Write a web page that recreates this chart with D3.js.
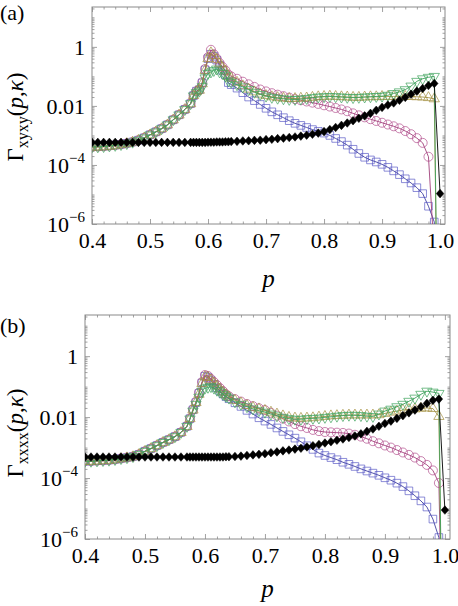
<!DOCTYPE html>
<html><head><meta charset="utf-8">
<script src="https://cdn.jsdelivr.net/npm/d3@7"></script>
<style>
body{margin:0;background:#fff}
svg{display:block}
svg text{font-family:"Liberation Serif","Times New Roman",Times,serif}
</style>
</head><body>
<svg id="c" width="458" height="606"></svg>
<script>
// ---------------- DATA ----------------
const pColored = [0.40,0.41,0.42,0.43,0.44,0.45,0.46,0.47,0.48,0.49,0.50,0.51,0.52,0.53,0.54,0.55,0.56,0.57,
  0.575,0.58,0.585,0.59,0.595,0.60,0.605,0.61,0.615,0.62,0.625,0.63,0.635,0.64,
  0.65,0.66,0.67,0.68,0.69,0.70,0.71,0.72,0.73,0.74,0.75,0.76,0.77,0.78,0.79,0.80,0.81,0.82,0.83,0.84,
  0.85,0.86,0.87,0.88,0.89,0.90,0.91,0.92,0.93,0.94,0.95,0.96,0.97,0.98,0.99,0.995];
const pBlack = [0.40,0.41,0.42,0.43,0.44,0.45,0.46,0.47,0.48,0.49,0.50,0.51,0.52,0.53,0.54,0.55,0.56,0.57,
  0.575,0.58,0.585,0.59,0.595,0.60,0.605,0.61,0.615,0.62,0.625,0.63,0.635,0.64,
  0.65,0.66,0.67,0.68,0.69,0.70,0.71,0.72,0.73,0.74,0.75,0.76,0.77,0.78,0.79,0.80,0.81,0.82,0.83,0.84,
  0.85,0.86,0.87,0.88,0.89,0.90,0.91,0.92,0.93,0.94,0.95,0.96,0.97,0.98,0.99,1.00];

// panel (a): Gamma_xyxy
const blueA = [4.2e-4,4.2e-4,4.3e-4,4.5e-4,4.7e-4,5.0e-4,5.4e-4,6.0e-4,6.9e-4,8.3e-4,1.05e-3,1.32e-3,1.70e-3,2.29e-3,3.39e-3,5.0e-3,7.6e-3,1.20e-2,
  2.24e-2,3.16e-2,3.55e-2,6.03e-2,0.166,0.398,0.562,0.479,0.355,0.240,0.158,0.112,6.17e-2,5.25e-2,
  4.0e-2,2.8e-2,2.0e-2,1.51e-2,1.12e-2,8.3e-3,6.3e-3,5.0e-3,4.0e-3,3.16e-3,2.57e-3,2.19e-3,1.86e-3,1.58e-3,1.38e-3,1.20e-3,1.0e-3,7.9e-4,6.2e-4,4.7e-4,
  3.4e-4,2.45e-4,1.82e-4,1.48e-4,1.26e-4,1.05e-4,8.3e-5,6.3e-5,4.7e-5,3.4e-5,2.45e-5,1.70e-5,1.07e-5,4.0e-6,1.17e-6,1e-9];
const magentaA = [4.2e-4,4.2e-4,4.3e-4,4.5e-4,4.7e-4,5.0e-4,5.4e-4,6.0e-4,6.9e-4,8.3e-4,1.05e-3,1.32e-3,1.70e-3,2.29e-3,3.39e-3,5.0e-3,7.6e-3,1.20e-2,
  2.24e-2,3.16e-2,3.55e-2,6.3e-2,0.178,0.447,0.794,0.562,0.398,0.282,0.209,0.158,0.115,0.100,
  8.3e-2,6.6e-2,5.4e-2,4.4e-2,3.6e-2,3.1e-2,2.7e-2,2.4e-2,2.14e-2,1.91e-2,1.70e-2,1.55e-2,1.41e-2,1.29e-2,1.17e-2,1.05e-2,9.5e-3,8.5e-3,7.6e-3,6.6e-3,
  5.6e-3,4.8e-3,4.1e-3,3.55e-3,3.09e-3,2.69e-3,2.34e-3,2.04e-3,1.74e-3,1.41e-3,1.10e-3,8.1e-4,5.6e-4,1.9e-4,1e-7,1e-9];
const oliveA = [4.0e-4,4.0e-4,4.1e-4,4.3e-4,4.5e-4,4.9e-4,5.3e-4,5.9e-4,6.8e-4,8.2e-4,1.04e-3,1.31e-3,1.68e-3,2.27e-3,3.36e-3,4.9e-3,7.5e-3,1.18e-2,
  2.24e-2,3.02e-2,3.39e-2,5.62e-2,0.158,0.398,0.631,0.501,0.380,0.263,0.200,0.151,0.100,8.7e-2,
  6.3e-2,4.8e-2,3.7e-2,3.0e-2,2.5e-2,2.24e-2,2.04e-2,1.91e-2,1.82e-2,1.78e-2,1.78e-2,1.82e-2,1.86e-2,1.95e-2,2.04e-2,2.09e-2,2.14e-2,2.09e-2,2.04e-2,2.0e-2,
  1.95e-2,1.95e-2,2.0e-2,2.04e-2,2.04e-2,2.09e-2,2.09e-2,2.09e-2,2.14e-2,2.09e-2,2.09e-2,2.04e-2,2.0e-2,1.91e-2,1.74e-2,1e-9];
const greenA = [4.1e-4,4.1e-4,4.2e-4,4.4e-4,4.6e-4,4.9e-4,5.3e-4,5.9e-4,6.8e-4,8.2e-4,1.04e-3,1.31e-3,1.69e-3,2.28e-3,3.38e-3,4.95e-3,7.5e-3,1.19e-2,
  2.19e-2,2.82e-2,3.16e-2,4.47e-2,8.91e-2,0.126,0.141,0.158,0.178,0.141,0.126,0.105,7.08e-2,6.31e-2,
  5.2e-2,4.4e-2,3.55e-2,2.9e-2,2.45e-2,2.14e-2,1.95e-2,1.82e-2,1.74e-2,1.66e-2,1.66e-2,1.70e-2,1.78e-2,1.91e-2,2.0e-2,2.04e-2,2.09e-2,2.04e-2,2.0e-2,1.95e-2,
  1.91e-2,1.95e-2,2.0e-2,2.04e-2,2.09e-2,2.14e-2,2.29e-2,2.63e-2,3.0e-2,3.55e-2,4.7e-2,6.8e-2,8.3e-2,9.3e-2,0.10,1e-9];
const blackA = [5.8e-4,5.8e-4,5.8e-4,5.8e-4,5.8e-4,5.8e-4,5.8e-4,5.8e-4,5.8e-4,5.8e-4,5.8e-4,5.8e-4,5.8e-4,5.8e-4,5.8e-4,5.8e-4,5.8e-4,5.8e-4,
  5.8e-4,5.8e-4,5.8e-4,5.8e-4,5.8e-4,5.9e-4,5.9e-4,5.9e-4,6.0e-4,6.0e-4,6.0e-4,6.1e-4,6.1e-4,6.2e-4,
  6.3e-4,6.5e-4,6.6e-4,6.8e-4,6.9e-4,7.2e-4,7.4e-4,7.8e-4,8.1e-4,8.5e-4,8.9e-4,9.5e-4,1.02e-3,1.10e-3,1.20e-3,1.35e-3,1.58e-3,1.86e-3,2.19e-3,2.63e-3,
  3.16e-3,3.8e-3,4.6e-3,5.6e-3,7.1e-3,8.9e-3,1.07e-2,1.26e-2,1.55e-2,1.95e-2,2.5e-2,3.16e-2,3.9e-2,4.9e-2,5.75e-2,1.07e-5];

// panel (b): Gamma_xxxx
const blueB = [3.6e-4,3.6e-4,3.7e-4,3.8e-4,3.9e-4,4.1e-4,4.4e-4,4.7e-4,5.1e-4,6.0e-4,7.6e-4,9.3e-4,1.17e-3,1.48e-3,1.82e-3,2.29e-3,3.16e-3,5.0e-3,
  8.9e-3,1.74e-2,3.0e-2,6.0e-2,0.132,0.219,0.200,0.158,0.120,9.1e-2,7.2e-2,5.75e-2,4.7e-2,4.0e-2,
  2.95e-2,2.24e-2,1.66e-2,1.26e-2,9.5e-3,7.4e-3,5.75e-3,4.4e-3,3.39e-3,2.63e-3,2.04e-3,1.55e-3,1.15e-3,8.7e-4,6.6e-4,5.5e-4,4.7e-4,4.0e-4,3.3e-4,2.82e-4,
  2.4e-4,2.0e-4,1.70e-4,1.45e-4,1.23e-4,1.02e-4,8.5e-5,6.8e-5,5.25e-5,3.8e-5,2.63e-5,1.78e-5,1.12e-5,4.5e-6,1.12e-6,1e-9];
const magentaB = [3.6e-4,3.6e-4,3.7e-4,3.8e-4,3.9e-4,4.1e-4,4.4e-4,4.7e-4,5.1e-4,6.0e-4,7.6e-4,9.3e-4,1.17e-3,1.48e-3,1.82e-3,2.29e-3,3.16e-3,5.0e-3,
  8.9e-3,1.78e-2,3.16e-2,6.3e-2,0.141,0.240,0.224,0.178,0.141,0.112,8.9e-2,7.1e-2,5.6e-2,4.8e-2,
  3.9e-2,3.24e-2,2.69e-2,2.29e-2,1.95e-2,1.70e-2,1.38e-2,1.12e-2,8.9e-3,7.2e-3,5.9e-3,5.0e-3,4.4e-3,3.8e-3,3.47e-3,3.24e-3,3.16e-3,3.09e-3,3.02e-3,2.88e-3,
  2.63e-3,2.29e-3,1.95e-3,1.62e-3,1.38e-3,1.17e-3,1.0e-3,8.3e-4,6.9e-4,5.75e-4,4.7e-4,3.6e-4,2.7e-4,1.78e-4,6.9e-5,1e-9];
const oliveB = [3.5e-4,3.5e-4,3.6e-4,3.7e-4,3.8e-4,4.0e-4,4.3e-4,4.6e-4,5.0e-4,5.9e-4,7.5e-4,9.2e-4,1.16e-3,1.47e-3,1.80e-3,2.27e-3,3.12e-3,4.9e-3,
  8.9e-3,1.70e-2,3.0e-2,5.6e-2,0.126,0.209,0.200,0.166,0.132,0.105,8.3e-2,6.6e-2,5.4e-2,4.6e-2,
  3.55e-2,2.9e-2,2.4e-2,2.09e-2,1.86e-2,1.66e-2,1.45e-2,1.26e-2,1.10e-2,9.8e-3,9.3e-3,9.1e-3,9.3e-3,9.5e-3,1.0e-2,1.05e-2,1.10e-2,1.12e-2,1.15e-2,1.17e-2,
  1.17e-2,1.17e-2,1.17e-2,1.17e-2,1.20e-2,1.32e-2,1.45e-2,1.58e-2,1.70e-2,1.78e-2,1.86e-2,1.95e-2,2.0e-2,1.91e-2,1.05e-2,1e-9];
const greenB = [3.55e-4,3.55e-4,3.65e-4,3.75e-4,3.85e-4,4.05e-4,4.35e-4,4.65e-4,5.05e-4,5.95e-4,7.5e-4,9.2e-4,1.16e-3,1.47e-3,1.81e-3,2.28e-3,3.14e-3,4.95e-3,
  8.7e-3,1.58e-2,2.63e-2,4.5e-2,7.1e-2,8.9e-2,9.5e-2,0.100,8.9e-2,7.6e-2,6.6e-2,5.6e-2,4.8e-2,4.2e-2,
  3.16e-2,2.63e-2,2.19e-2,1.86e-2,1.62e-2,1.45e-2,1.26e-2,1.10e-2,9.8e-3,8.9e-3,8.5e-3,8.5e-3,8.9e-3,9.1e-3,9.3e-3,9.8e-3,1.02e-2,1.07e-2,1.12e-2,1.15e-2,
  1.15e-2,1.12e-2,1.07e-2,1.05e-2,1.26e-2,1.58e-2,1.82e-2,2.19e-2,2.63e-2,3.3e-2,4.2e-2,5.6e-2,7.1e-2,6.6e-2,6.0e-2,1e-9];
const blackB = [4.9e-4,4.9e-4,4.9e-4,4.9e-4,4.9e-4,4.9e-4,4.9e-4,4.9e-4,4.9e-4,4.9e-4,4.9e-4,4.9e-4,4.9e-4,4.9e-4,4.9e-4,4.9e-4,4.9e-4,4.9e-4,
  4.9e-4,4.9e-4,4.9e-4,4.9e-4,4.9e-4,4.9e-4,4.9e-4,4.9e-4,4.9e-4,4.9e-4,4.9e-4,4.9e-4,5.0e-4,5.0e-4,
  5.1e-4,5.25e-4,5.5e-4,5.75e-4,6.0e-4,6.3e-4,6.8e-4,7.2e-4,7.8e-4,8.3e-4,8.9e-4,9.5e-4,1.05e-3,1.15e-3,1.26e-3,1.41e-3,1.55e-3,1.74e-3,1.91e-3,2.14e-3,
  2.4e-3,2.82e-3,3.39e-3,4.07e-3,5.0e-3,6.2e-3,7.4e-3,9.1e-3,1.12e-2,1.38e-2,1.70e-2,2.19e-2,2.82e-2,3.55e-2,3.9e-2,8.9e-6];

// axes / ticks
const xDomain = [0.4, 1.0085];
const yDomain = [1e-6, 22.4];
const xMajorTicks = [0.4,0.5,0.6,0.7,0.8,0.9,1.0];
const xTickLabels = ["0.4","0.5","0.6","0.7","0.8","0.9","1.0"];
const yMajorTicks = [1e-6,1e-4,1e-2,1];
const yTickLabels = [["10","\u22126"],["10","\u22124"],["0.01",""],["1",""]];
const panelLabels = ["(a)","(b)"];
const ySubscripts = ["xyxy","xxxx"];
const xLabel = "p";

// ---------------- DRAWING ----------------
const svg = d3.select("#c");
const defs = svg.append("defs");
const FONT = '"Liberation Serif","Times New Roman",Times,serif';

const styles = {
  blue:    {line:"#40409f", mark:"rgba(85,85,195,0.75)", shape:"square"},
  magenta: {line:"#a0407a", mark:"rgba(175,70,135,0.75)", shape:"circle"},
  olive:   {line:"#a08f40", mark:"rgba(165,145,65,0.8)", shape:"up"},
  green:   {line:"#40a05c", mark:"rgba(65,165,95,0.8)", shape:"down"},
  black:   {line:"#000", mark:"#000", shape:"diamond"}
};
const diamond = {draw(ctx, size){ const w=3.8,h=4.3; ctx.moveTo(0,-h); ctx.lineTo(w,0); ctx.lineTo(0,h); ctx.lineTo(-w,0); ctx.closePath(); }};
function symbolPath(shape){
  if(shape==="square") return d3.symbol(d3.symbolSquare, 58)();
  if(shape==="circle") return d3.symbol(d3.symbolCircle, 64)();
  if(shape==="up") return d3.symbol(d3.symbolTriangle, 46)();
  if(shape==="down") return d3.symbol(d3.symbolTriangle, 46)();
  return d3.symbol(diamond, 1)();
}

function panel(cfg){
  const x = d3.scaleLinear().domain(xDomain).range([cfg.left, cfg.right]);
  const y = d3.scaleLog().domain(yDomain).range([cfg.bottom, cfg.top]);
  const g = svg.append("g");
  defs.append("clipPath").attr("id","clip"+cfg.id).append("rect")
    .attr("x",cfg.left).attr("y",cfg.top).attr("width",cfg.right-cfg.left).attr("height",cfg.bottom-cfg.top);

  const xMinor = d3.range(0.40, 1.009, 0.02).map(v=>+v.toFixed(2)).filter(v=>!xMajorTicks.some(t=>Math.abs(t-v)<1e-6));
  const yMinor = [];
  for(let e=-6;e<=1;e++) for(let k=1;k<=9;k++){ const v=k*Math.pow(10,e); if(v<=yDomain[1] && !yMajorTicks.some(t=>Math.abs(t-v)/t<1e-6)) yMinor.push(v); }

  const axColor = "#8a8a8a";
  function ax(axis, tx, ty){
    const a = g.append("g").attr("transform",`translate(${tx},${ty})`).call(axis);
    a.select(".domain").remove();
    a.attr("color", axColor).attr("font-family",FONT).attr("font-size",22);
    a.selectAll("line").attr("stroke-width",0.8);
    return a;
  }
  const bx = ax(d3.axisBottom(x).tickValues(xMajorTicks).tickSize(-5).tickPadding(8).tickFormat((d,i)=>xTickLabels[i]), 0, cfg.bottom);
  bx.selectAll("text").attr("fill","#000").style("font-family",FONT);
  ax(d3.axisBottom(x).tickValues(xMinor).tickSize(-2.5).tickFormat(""), 0, cfg.bottom);
  ax(d3.axisTop(x).tickValues(xMajorTicks).tickSize(-5).tickFormat(""), 0, cfg.top);
  ax(d3.axisTop(x).tickValues(xMinor).tickSize(-2.5).tickFormat(""), 0, cfg.top);
  const ly = ax(d3.axisLeft(y).tickValues(yMajorTicks).tickSize(-5).tickPadding(7).tickFormat(""), cfg.left, 0);
  ly.selectAll(".tick text").each(function(d,i){
    const t = d3.select(this).attr("fill","#000").attr("dy","0.34em").style("font-family",FONT);
    const lab = yTickLabels[i];
    t.append("tspan").text(lab[0]);
    if(lab[1]) t.append("tspan").attr("font-size",15).attr("dy","-0.65em").text(lab[1]);
  });
  ax(d3.axisLeft(y).tickValues(yMinor).tickSize(-2.5).tickFormat(""), cfg.left, 0);
  ax(d3.axisRight(y).tickValues(yMajorTicks).tickSize(-5).tickFormat(""), cfg.right, 0);
  ax(d3.axisRight(y).tickValues(yMinor).tickSize(-2.5).tickFormat(""), cfg.right, 0);

  g.append("rect").attr("x",cfg.left).attr("y",cfg.top).attr("width",cfg.right-cfg.left).attr("height",cfg.bottom-cfg.top)
    .attr("fill","none").attr("stroke",axColor).attr("stroke-width",1);

  const plot = g.append("g").attr("clip-path",`url(#clip${cfg.id})`);
  const line = d3.line().x(d=>x(d[0])).y(d=>y(Math.max(d[1],1e-12)));
  cfg.series.forEach(s=>{
    const st = styles[s.style];
    const pts = s.p.map((p,i)=>[p, s.v[i]]);
    plot.append("path").datum(pts).attr("d",line).attr("fill","none").attr("stroke",st.line).attr("stroke-width",0.9);
    const path = symbolPath(st.shape);
    plot.append("g").selectAll("path").data(pts).join("path")
      .attr("d",path)
      .attr("transform",d=>`translate(${x(d[0])},${y(Math.max(d[1],1e-12))})${st.shape==="down"?" rotate(180)":""}`)
      .attr("fill", st.shape==="diamond" ? "#000" : "none")
      .attr("stroke", st.mark)
      .attr("stroke-width", st.shape==="diamond" ? 0.5 : 0.9);
  });

  const yl = svg.append("text").attr("transform",`translate(${cfg.ylabX},${cfg.ylabY}) rotate(-90)`)
    .attr("text-anchor","middle").attr("font-size",23).attr("fill","#000").style("font-family",FONT);
  yl.append("tspan").text("\u0393");
  yl.append("tspan").attr("font-size",16).attr("dy",5).text(cfg.sub);
  yl.append("tspan").attr("dy",-5).text("(");
  yl.append("tspan").attr("font-style","italic").text("p");
  yl.append("tspan").text(",");
  yl.append("tspan").attr("font-style","italic").text("\u03BA");
  yl.append("tspan").text(")");

  svg.append("text").attr("x",(cfg.left+cfg.right)/2).attr("y",cfg.xlabY).attr("text-anchor","middle")
    .attr("font-size",25).attr("font-style","italic").attr("fill","#000").style("font-family",FONT).text(xLabel);

  svg.append("text").attr("x",0).attr("y",cfg.plabY).attr("font-size",22).attr("fill","#000").style("font-family",FONT).text(cfg.plab);
}

panel({id:"a", left:92, right:445, top:7, bottom:224, ylabX:23, ylabY:117, xlabY:287, plabY:20,
  plab:panelLabels[0], sub:ySubscripts[0],
  series:[
    {style:"blue", p:pColored, v:blueA},
    {style:"magenta", p:pColored, v:magentaA},
    {style:"olive", p:pColored, v:oliveA},
    {style:"green", p:pColored, v:greenA},
    {style:"black", p:pBlack, v:blackA}
  ]});
panel({id:"b", left:85, right:450, top:315, bottom:539, ylabX:23, ylabY:433, xlabY:597, plabY:333,
  plab:panelLabels[1], sub:ySubscripts[1],
  series:[
    {style:"blue", p:pColored, v:blueB},
    {style:"magenta", p:pColored, v:magentaB},
    {style:"olive", p:pColored, v:oliveB},
    {style:"green", p:pColored, v:greenB},
    {style:"black", p:pBlack, v:blackB}
  ]});
</script>
</body></html>
